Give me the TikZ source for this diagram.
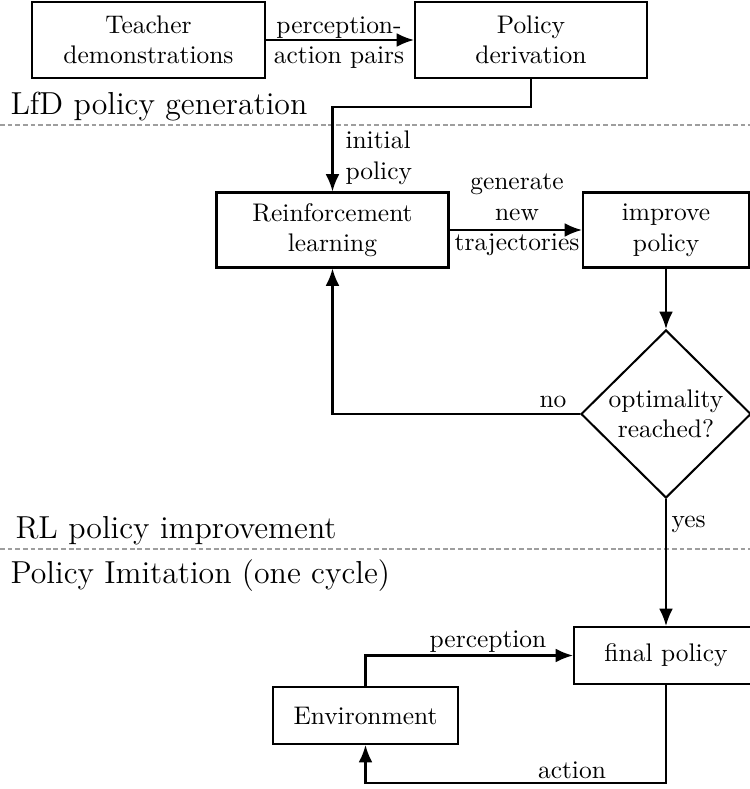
\documentclass[tikz,border=0pt]{standalone}
\usetikzlibrary{arrows.meta,shapes.geometric}
\def\pxu{0.3929pt}
\tikzset{
  box/.style={draw, line width=0.8pt, align=center, inner sep=2pt},
  flow/.style={draw, line width=0.8pt, -{Latex[length=6.8pt,width=5.4pt]}},
  sep/.style={draw=black!38, line width=0.9pt, dash pattern=on 1.9pt off 1.1pt},
  phase/.style={font=\fontsize{12.5}{15}\selectfont, inner sep=0pt, anchor=base west},
  lbl/.style={inner sep=0pt, align=center}
}
\begin{document}
\begin{tikzpicture}[x=\pxu, y=-\pxu]
\useasboundingbox (0,0) rectangle (750,789);

% phase separators and titles
\coordinate (sepA1) at (0,125);
\coordinate (sepA2) at (750,125);
\coordinate (sepB1) at (0,549);
\coordinate (sepB2) at (750,549);
\draw[sep] (sepA1) -- (sepA2);
\draw[sep] (sepB1) -- (sepB2);
\node[phase] (tLfD) at (10,114) {LfD policy generation};
\node[phase] (tRL) at (15,538) {RL policy improvement};
\node[phase] (tImit) at (10,583) {Policy Imitation (one cycle)};

% blocks
\node[box, minimum width=233*\pxu, minimum height=76*\pxu] (teacher) at (148.5,40) {Teacher\\demonstrations};
\node[box, minimum width=232*\pxu, minimum height=76*\pxu] (deriv) at (531,40) {Policy\\derivation};
\node[box, minimum width=232*\pxu, minimum height=75*\pxu] (rl) at (332.5,230) {Reinforcement\\learning};
\node[box, minimum width=166*\pxu, minimum height=75*\pxu] (imp) at (666,230) {improve\\policy};
\node[draw, line width=0.8pt, diamond, inner sep=0pt, align=center,
      minimum width=170*\pxu, minimum height=168*\pxu] (dia) at (666,414) {optimality\\reached?};
\node[box, minimum width=184*\pxu, minimum height=57*\pxu] (final) at (666,655.5) {final policy};
\node[box, minimum width=185*\pxu, minimum height=57*\pxu] (env) at (365.5,715.5) {Environment};

% routing levels
\coordinate (ipLevel) at (0,107);
\coordinate (actLevel) at (0,783);

% connectors
\draw[flow] (teacher.east) -- (deriv.west);
\node[lbl] (pap) at (339,42.5) {perception-\\action pairs};

\draw[flow] (deriv.south) -- (deriv.south |- ipLevel) -| (rl.north);
\node[lbl, align=left, anchor=west] (ip) at (345,158) {initial\\policy};

\draw[flow] (rl.east) -- (imp.west);
\node[lbl] (gnt) at (517,215) {generate\\new\\trajectories};

\draw[flow] (imp.south) -- (dia.north);

\draw[flow] (dia.west) -| (rl.south);
\node[lbl, anchor=base] (no) at (553,407) {no};

\draw[flow] (dia.south) -- (final.north);
\node[lbl, anchor=base west] (yes) at (671,527) {yes};

\draw[flow] (env.north) |- (final.west);
\node[lbl, anchor=base] (perc) at (488,647) {perception};

\draw[flow] (final.south) -- (final.south |- actLevel) -| (env.south);
\node[lbl, anchor=base] (act) at (572,778) {action};
\end{tikzpicture}
\end{document}
